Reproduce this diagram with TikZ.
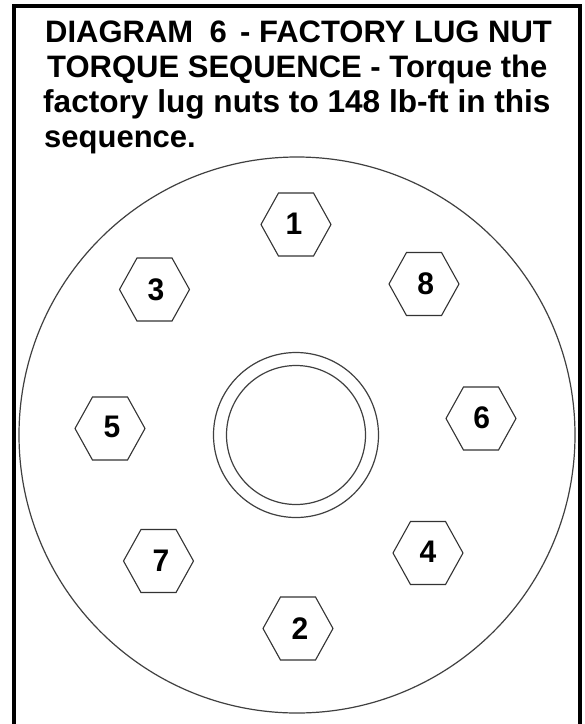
\documentclass[tikz,border=0pt]{standalone}
\usepackage{fontspec}
\setmainfont{Liberation Sans}
\usetikzlibrary{shapes.geometric}
\newcommand{\nudged}[3]{\raisebox{#2pt}{\hspace*{#1pt}#3}}
\tikzset{
  px/.style={x=1pt,y=-1pt},
  titleline/.style={anchor=base west,inner sep=0pt,font=\fontsize{31}{34}\selectfont\bfseries,text=black},
  hexnut/.style={draw=black!80,line width=1.1pt,regular polygon,regular polygon sides=6,minimum size=70pt,inner sep=0pt,outer sep=0pt,transform shape,yscale=1.04,font=\fontsize{30}{33}\selectfont\bfseries},
  ring/.style={draw=black!75,line width=1.2pt,circle,inner sep=0pt,outer sep=0pt},
  framebox/.style={draw=black,line width=4pt}
}
\begin{document}
\begin{tikzpicture}[px]
\useasboundingbox (0,0) rectangle (585,724);
\fill[white] (0,0) rectangle (585,724);
\coordinate (fa) at (14,730);
\coordinate (fb) at (14,5.5);
\coordinate (fc) at (580,5.5);
\coordinate (fd) at (580,730);
\draw[framebox] (fa) -- (fb) -- (fc) -- (fd);
\node[titleline] (t1) at (45,42) {DIAGRAM\hspace{0.25em} 6\hspace{0.15em} - FACTORY LUG NUT};
\node[titleline] (t2) at (47,77) {TORQUE SEQUENCE - Torque the};
\node[titleline,font=\fontsize{31.6}{34}\selectfont\bfseries] (t3) at (43,112) {factory lug nuts to 148 lb-ft in this};
\node[titleline] (t4) at (44,147) {sequence.};
\node[ring,minimum size=556pt] (wheel) at (297,435) {};
\node[ring,minimum size=165pt] (hubout) at (296,435) {};
\node[ring,minimum size=139pt] (hubin) at (296,435) {};
\node[hexnut] (n1) at (296,224.5) {\nudged{-4}{1}{1}};
\node[hexnut] (n8) at (424,284) {\nudged{3.4}{-1}{8}};
\node[hexnut] (n3) at (154.5,289.5) {\nudged{3}{0.5}{3}};
\node[hexnut] (n6) at (481,418.5) {\nudged{1.4}{1.5}{6}};
\node[hexnut] (n5) at (110,428.5) {\nudged{4}{2.5}{5}};
\node[hexnut] (n4) at (428,553) {\nudged{0}{2}{4}};
\node[hexnut] (n7) at (158.5,561) {\nudged{5}{0}{7}};
\node[hexnut] (n2) at (298,628.5) {\nudged{4}{0.5}{2}};
\end{tikzpicture}
\end{document}
